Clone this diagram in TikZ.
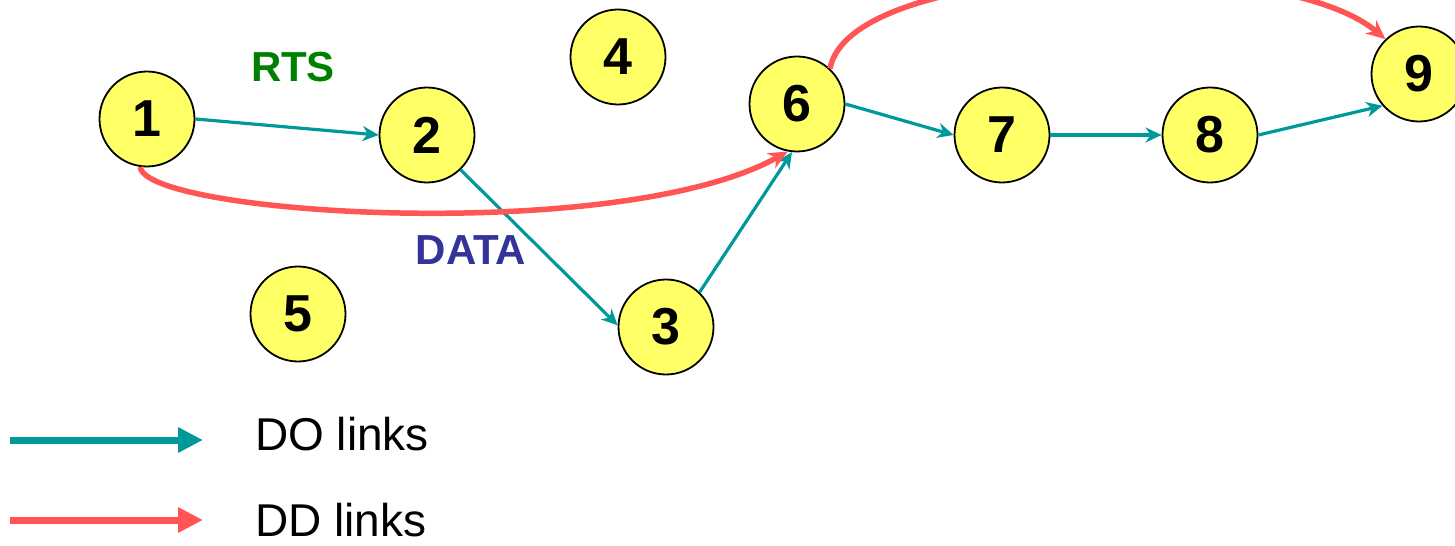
\documentclass[tikz,border=0pt]{standalone}
\usepackage{fontspec}
\setmainfont{Liberation Sans}
\usetikzlibrary{arrows.meta}
\definecolor{tealc}{RGB}{0,153,153}
\definecolor{redc}{RGB}{255,85,85}
\definecolor{yellowc}{RGB}{255,255,102}
\definecolor{rtsc}{RGB}{0,128,0}
\definecolor{datac}{RGB}{51,51,153}
\tikzset{
  nd/.style={circle, draw=black, line width=1.8bp, fill=yellowc, minimum size=95bp, inner sep=0pt,
    font=\fontsize{52bp}{60bp}\selectfont\bfseries},
  dolink/.style={draw=tealc, line width=3.2bp, -{Stealth[length=16bp,width=15bp,inset=5bp]}},
  ddlink/.style={draw=redc, line width=5.5bp, -{Stealth[length=19bp,width=17bp,inset=6bp]}},
  lgdo/.style={draw=tealc, line width=7bp, -{Triangle[length=25bp,width=24bp]}},
  lgdd/.style={draw=redc, line width=7bp, -{Triangle[length=25bp,width=24bp]}},
  lbl/.style={font=\fontsize{42bp}{50bp}\selectfont\bfseries},
  lgtxt/.style={font=\fontsize{46bp}{54bp}\selectfont, anchor=base west, inner sep=0pt}
}
\begin{document}
\begin{tikzpicture}[x=1bp,y=-1bp]
\clip (0,0) rectangle (1455,546);
\fill[white] (0,0) rectangle (1455,546);
\node[nd] (n1) at (147,119) {1};
\node[nd] (n2) at (427,135) {2};
\node[nd] (n3) at (666,327) {3};
\node[nd] (n4) at (618,57) {4};
\node[nd] (n5) at (298,314) {5};
\node[nd] (n6) at (797,104) {6};
\node[nd] (n7) at (1002,135) {7};
\node[nd] (n8) at (1210,135) {8};
\node[nd] (n9) at (1419,74) {9};
\node[lbl, text=rtsc] (rts) at (293,67) {RTS};
\node[lbl, text=datac] (data) at (471,250) {DATA};
\draw[dolink] (n1.0) -- (n2.180);
\draw[dolink] (n2.-46) -- (n3.178);
\draw[dolink] (n3.46) -- (n6.264);
\draw[dolink] (n6.0) -- (n7.180);
\draw[dolink] (n7.0) -- (n8.180);
\draw[dolink] (n8.0) -- (n9.221);
\draw[ddlink] (n1.262) .. controls (145,215) and (620,245) .. (n6.259);
\draw[ddlink] (n6.47) .. controls (850,-40) and (1280,-50) .. (n9.134);
\coordinate (a1) at (10,440);
\coordinate (b1) at (203,440);
\coordinate (a2) at (10,520);
\coordinate (b2) at (203,520);
\draw[lgdo] (a1) -- (b1);
\draw[lgdd] (a2) -- (b2);
\node[lgtxt] (t1) at (255,450) {DO links};
\node[lgtxt] (t2) at (255,536) {DD links};
\end{tikzpicture}
\end{document}
